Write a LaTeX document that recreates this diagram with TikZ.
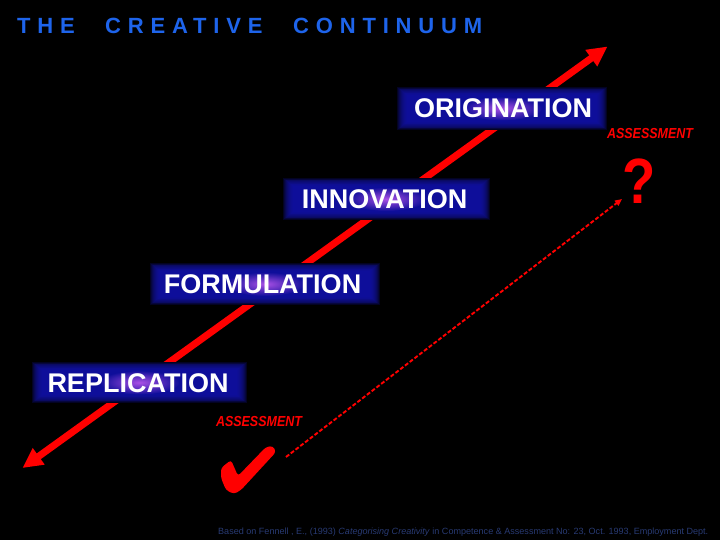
\documentclass[tikz,border=0pt]{standalone}
\usepackage{fontspec}
\setmainfont{Liberation Sans}
\newfontfamily\titlefont[LetterSpace=31]{Liberation Sans}
\usetikzlibrary{arrows.meta,fadings}
\definecolor{boxblue}{RGB}{18,18,170}
\definecolor{glowpurple}{RGB}{170,80,230}
\definecolor{titleblue}{RGB}{30,100,235}
\definecolor{citeblue}{RGB}{40,58,115}
\definecolor{arrowred}{RGB}{255,0,0}
\tikzfading[name=glowfade, inner color=transparent!0, outer color=transparent!100]
\newcommand\glowbox[4]{%
  \fill[black] (#1,#2) rectangle (#3,#4);
  \foreach \i in {0,...,10}{\fill[boxblue,opacity=0.2] ({#1+\i},{#2+0.8*\i}) rectangle ({#3-\i},{#4-0.8*\i});}
  \fill[glowpurple,path fading=glowfade] ({(#1+#3)/2},{(#2+#4)/2}) ellipse [x radius=40pt, y radius=12pt];
}
\tikzset{
  lab/.style={text=white, font=\bfseries\fontsize{27}{27}\selectfont, inner sep=0pt, anchor=base},
  titletext/.style={text=titleblue, font=\titlefont\bfseries\fontsize{22}{22}\selectfont, inner sep=0pt, anchor=base west},
  assess/.style={text=arrowred, font=\bfseries\itshape\fontsize{14.5}{14.5}\selectfont, inner sep=0pt, xscale=0.86},
  bigarrow/.style={draw=arrowred, line width=7pt, {Triangle[length=20pt,width=19pt]}-{Triangle[length=20pt,width=19pt]}},
  dasharrow/.style={draw=arrowred, line width=1.9pt, dash pattern=on 4pt off 2pt, -{Triangle[length=7pt,width=6pt]}},
}
\begin{document}
\begin{tikzpicture}[x=1pt,y=-1pt]
\useasboundingbox (0,0) rectangle (720,540);
\fill[black] (0,0) rectangle (720,540);
% title
\node[titletext] (t1) at (17,34) {THE};
\node[titletext] (t2) at (105,34) {CREATIVE};
\node[titletext] (t3) at (293,34) {CONTINUUM};
% main continuum arrow
\coordinate (lo) at (22.5,468);
\coordinate (hi) at (607.5,46.5);
\draw[bigarrow] (lo) -- (hi);
% glowing label boxes
\glowbox{397}{87}{607}{130}
\glowbox{283}{178}{490}{220}
\glowbox{150}{263}{380}{305}
\glowbox{32}{362}{247}{403}
\node[lab] (ori) at (503,118) {ORIGINATION};
\node[lab] (inn) at (384.5,209) {INNOVATION};
\node[lab] (for) at (262.5,293) {FORMULATION};
\node[lab] (rep) at (138,392) {REPLICATION};
% assessment
\node[assess] (as1) at (259,422) {ASSESSMENT};
\node[assess] (as2) at (650,134) {ASSESSMENT};
\node[text=arrowred, font=\bfseries\fontsize{64}{64}\selectfont, inner sep=0pt, xscale=0.85] (q) at (639,181) {?};
\fill[arrowred, rounded corners=3pt] (221,468) -- (231,460) -- (238,476) -- (266,447) -- (273,446) -- (276,452) -- (241,490) -- (234,494) -- (226,490) -- (221,478) -- cycle;
\coordinate (d1) at (286,457);
\coordinate (d2) at (622,199);
\draw[dasharrow] (d1) -- (d2);
% citation
\node[anchor=base west, text=citeblue, font=\fontsize{9.05}{9.05}\selectfont, inner sep=0pt] (cite) at (218,534) {Based on Fennell , E., (1993) \textit{Categorising Creativity} in Competence \& Assessment No: 23, Oct. 1993, Employment Dept.};
\end{tikzpicture}
\end{document}
